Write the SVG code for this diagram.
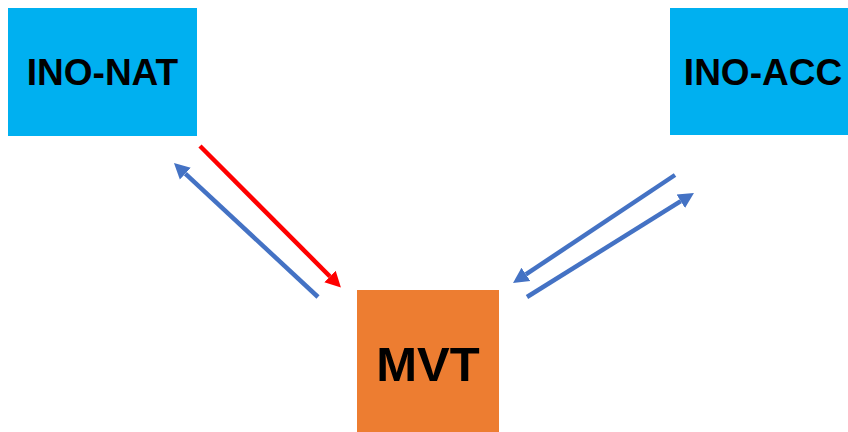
<svg xmlns="http://www.w3.org/2000/svg" width="848" height="432" viewBox="0 0 848 432">
  <style>
    .label { font-family: "Liberation Sans", Arial, sans-serif; font-weight: bold; fill: #000000; text-anchor: middle; }
    .blue-box { fill: #00B0F0; }
    .orange-box { fill: #ED7D31; }
    .link { stroke-width: 4.5; fill: none; stroke-linecap: butt; }
    .link-blue { stroke: #4472C4; }
    .link-red { stroke: #FF0000; }
  </style>
  <defs>
    <marker id="head-blue" viewBox="0 -9 16 18" markerWidth="16" markerHeight="18" refX="0" refY="0" markerUnits="userSpaceOnUse" orient="auto">
      <path d="M0,-8 L15.5,0 L0,8 Z" fill="#4472C4"/>
    </marker>
    <marker id="head-red" viewBox="0 -9 16 18" markerWidth="16" markerHeight="18" refX="0" refY="0" markerUnits="userSpaceOnUse" orient="auto">
      <path d="M0,-8 L15.5,0 L0,8 Z" fill="#FF0000"/>
    </marker>
  </defs>

  <rect width="848" height="432" fill="#FFFFFF"/>

  <g id="ino-nat">
    <rect class="blue-box" x="8" y="8" width="189" height="128"/>
    <text class="label" x="102.5" y="85" font-size="37">INO-NAT</text>
  </g>

  <g id="ino-acc">
    <rect class="blue-box" x="670" y="8" width="186" height="127"/>
    <text class="label" x="763" y="85" font-size="37">INO-ACC</text>
  </g>

  <g id="mvt">
    <rect class="orange-box" x="357" y="290" width="142" height="150"/>
    <text class="label" x="428" y="381" font-size="49">MVT</text>
  </g>

  <g id="connectors">
    <line class="link link-red" x1="200" y1="146" x2="330" y2="276.5" marker-end="url(#head-red)"/>
    <line class="link link-blue" x1="318" y1="297" x2="185.3" y2="173.6" marker-end="url(#head-blue)"/>
    <line class="link link-blue" x1="675" y1="175" x2="525.9" y2="274.4" marker-end="url(#head-blue)"/>
    <line class="link link-blue" x1="527" y1="297" x2="680.8" y2="201.2" marker-end="url(#head-blue)"/>
  </g>
</svg>
